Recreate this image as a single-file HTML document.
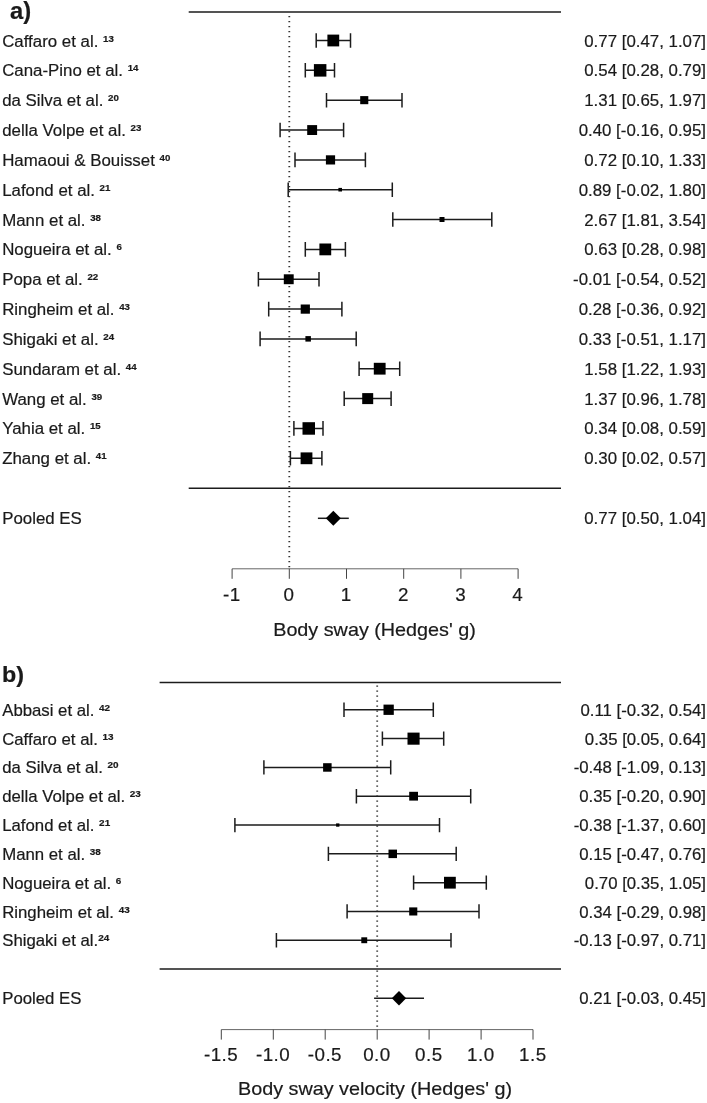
<!DOCTYPE html>
<html lang="en"><head><meta charset="utf-8"><title>Forest plot</title>
<style>
html,body{margin:0;padding:0;background:#fff;}
svg{display:block;font-family:"Liberation Sans", Arial, Helvetica, sans-serif;fill:#1a1a1a;}
text{stroke:#1a1a1a;stroke-width:0.2px;}
</style></head>
<body>
<svg width="707" height="1103" viewBox="0 0 707 1103">
<rect x="0" y="0" width="707" height="1103" fill="#fff"/>
<text transform="translate(9.9 18.7) scale(1.03 1)" font-size="23.1" font-weight="bold">a)</text>
<path d="M188.7 12H561.0M188.7 488.3H561.0" stroke="#1c1c1c" stroke-width="1.5" fill="none"/>
<line x1="289.3" y1="16.0" x2="289.3" y2="568.8" stroke="#333" stroke-width="1.8" stroke-dasharray="1.25 3.75"/>
<text transform="translate(2.2 46.5) scale(1 1)" font-size="16.85" xml:space="preserve">Caffaro et al. <tspan font-size="9.7" font-weight="bold" dx="0.0" dy="-5.0">13</tspan></text>
<path d="M316.2 40.5H350.5M316.2 33.2V47.8M350.5 33.2V47.8" stroke="#1c1c1c" stroke-width="1.5" fill="none"/>
<rect x="327.4" y="34.6" width="11.8" height="11.8" fill="#000"/>
<text transform="translate(706.0 46.5) scale(1 1)" font-size="16.85" text-anchor="end">0.77 [0.47, 1.07]</text>
<text transform="translate(2.2 76.3) scale(1 1)" font-size="16.85" xml:space="preserve">Cana-Pino et al. <tspan font-size="9.7" font-weight="bold" dx="0.0" dy="-5.0">14</tspan></text>
<path d="M305.3 70.3H334.5M305.3 63.0V77.6M334.5 63.0V77.6" stroke="#1c1c1c" stroke-width="1.5" fill="none"/>
<rect x="313.9" y="64.1" width="12.5" height="12.5" fill="#000"/>
<text transform="translate(706.0 76.3) scale(1 1)" font-size="16.85" text-anchor="end">0.54 [0.28, 0.79]</text>
<text transform="translate(2.2 106.2) scale(1 1)" font-size="16.85" xml:space="preserve">da Silva et al. <tspan font-size="9.7" font-weight="bold" dx="0.0" dy="-5.0">20</tspan></text>
<path d="M326.5 100.2H402.0M326.5 92.9V107.5M402.0 92.9V107.5" stroke="#1c1c1c" stroke-width="1.5" fill="none"/>
<rect x="360.2" y="96.1" width="8.1" height="8.1" fill="#000"/>
<text transform="translate(706.0 106.2) scale(1 1)" font-size="16.85" text-anchor="end">1.31 [0.65, 1.97]</text>
<text transform="translate(2.2 136.0) scale(1 1)" font-size="16.85" xml:space="preserve">della Volpe et al. <tspan font-size="9.7" font-weight="bold" dx="0.0" dy="-5.0">23</tspan></text>
<path d="M280.1 130.0H343.6M280.1 122.7V137.3M343.6 122.7V137.3" stroke="#1c1c1c" stroke-width="1.5" fill="none"/>
<rect x="307.2" y="125.1" width="9.9" height="9.9" fill="#000"/>
<text transform="translate(706.0 136.0) scale(1 1)" font-size="16.85" text-anchor="end">0.40 [-0.16, 0.95]</text>
<text transform="translate(2.2 165.9) scale(1 1)" font-size="16.85" xml:space="preserve">Hamaoui &amp; Bouisset <tspan font-size="9.7" font-weight="bold" dx="0.0" dy="-5.0">40</tspan></text>
<path d="M295.0 159.9H365.4M295.0 152.6V167.2M365.4 152.6V167.2" stroke="#1c1c1c" stroke-width="1.5" fill="none"/>
<rect x="325.9" y="155.3" width="9.2" height="9.2" fill="#000"/>
<text transform="translate(706.0 165.9) scale(1 1)" font-size="16.85" text-anchor="end">0.72 [0.10, 1.33]</text>
<text transform="translate(2.2 195.7) scale(1 1)" font-size="16.85" xml:space="preserve">Lafond et al. <tspan font-size="9.7" font-weight="bold" dx="0.0" dy="-5.0">21</tspan></text>
<path d="M288.2 189.7H392.3M288.2 182.4V197.0M392.3 182.4V197.0" stroke="#1c1c1c" stroke-width="1.5" fill="none"/>
<rect x="338.4" y="187.9" width="3.6" height="3.6" fill="#000"/>
<text transform="translate(706.0 195.7) scale(1 1)" font-size="16.85" text-anchor="end">0.89 [-0.02, 1.80]</text>
<text transform="translate(2.2 225.5) scale(1 1)" font-size="16.85" xml:space="preserve">Mann et al. <tspan font-size="9.7" font-weight="bold" dx="0.0" dy="-5.0">38</tspan></text>
<path d="M392.8 219.5H491.8M392.8 212.2V226.8M491.8 212.2V226.8" stroke="#1c1c1c" stroke-width="1.5" fill="none"/>
<rect x="439.5" y="217.0" width="5.0" height="5.0" fill="#000"/>
<text transform="translate(706.0 225.5) scale(1 1)" font-size="16.85" text-anchor="end">2.67 [1.81, 3.54]</text>
<text transform="translate(2.2 255.4) scale(1 1)" font-size="16.85" xml:space="preserve">Nogueira et al. <tspan font-size="9.7" font-weight="bold" dx="0.0" dy="-5.0">6</tspan></text>
<path d="M305.3 249.4H345.4M305.3 242.1V256.7M345.4 242.1V256.7" stroke="#1c1c1c" stroke-width="1.5" fill="none"/>
<rect x="319.4" y="243.5" width="11.8" height="11.8" fill="#000"/>
<text transform="translate(706.0 255.4) scale(1 1)" font-size="16.85" text-anchor="end">0.63 [0.28, 0.98]</text>
<text transform="translate(2.2 285.2) scale(1 1)" font-size="16.85" xml:space="preserve">Popa et al. <tspan font-size="9.7" font-weight="bold" dx="0.0" dy="-5.0">22</tspan></text>
<path d="M258.4 279.2H319.0M258.4 271.9V286.5M319.0 271.9V286.5" stroke="#1c1c1c" stroke-width="1.5" fill="none"/>
<rect x="283.8" y="274.3" width="9.9" height="9.9" fill="#000"/>
<text transform="translate(706.0 285.2) scale(1 1)" font-size="16.85" text-anchor="end">-0.01 [-0.54, 0.52]</text>
<text transform="translate(2.2 315.1) scale(1 1)" font-size="16.85" xml:space="preserve">Ringheim et al. <tspan font-size="9.7" font-weight="bold" dx="0.0" dy="-5.0">43</tspan></text>
<path d="M268.7 309.1H341.9M268.7 301.8V316.4M341.9 301.8V316.4" stroke="#1c1c1c" stroke-width="1.5" fill="none"/>
<rect x="300.7" y="304.5" width="9.2" height="9.2" fill="#000"/>
<text transform="translate(706.0 315.1) scale(1 1)" font-size="16.85" text-anchor="end">0.28 [-0.36, 0.92]</text>
<text transform="translate(2.2 344.9) scale(1 1)" font-size="16.85" xml:space="preserve">Shigaki et al. <tspan font-size="9.7" font-weight="bold" dx="0.0" dy="-5.0">24</tspan></text>
<path d="M260.1 338.9H356.2M260.1 331.6V346.2M356.2 331.6V346.2" stroke="#1c1c1c" stroke-width="1.5" fill="none"/>
<rect x="305.4" y="336.1" width="5.5" height="5.5" fill="#000"/>
<text transform="translate(706.0 344.9) scale(1 1)" font-size="16.85" text-anchor="end">0.33 [-0.51, 1.17]</text>
<text transform="translate(2.2 374.7) scale(1 1)" font-size="16.85" xml:space="preserve">Sundaram et al. <tspan font-size="9.7" font-weight="bold" dx="0.0" dy="-5.0">44</tspan></text>
<path d="M359.1 368.7H399.7M359.1 361.4V376.0M399.7 361.4V376.0" stroke="#1c1c1c" stroke-width="1.5" fill="none"/>
<rect x="373.8" y="362.8" width="11.8" height="11.8" fill="#000"/>
<text transform="translate(706.0 374.7) scale(1 1)" font-size="16.85" text-anchor="end">1.58 [1.22, 1.93]</text>
<text transform="translate(2.2 404.6) scale(1 1)" font-size="16.85" xml:space="preserve">Wang et al. <tspan font-size="9.7" font-weight="bold" dx="0.0" dy="-5.0">39</tspan></text>
<path d="M344.2 398.6H391.1M344.2 391.3V405.9M391.1 391.3V405.9" stroke="#1c1c1c" stroke-width="1.5" fill="none"/>
<rect x="362.2" y="393.1" width="11.0" height="11.0" fill="#000"/>
<text transform="translate(706.0 404.6) scale(1 1)" font-size="16.85" text-anchor="end">1.37 [0.96, 1.78]</text>
<text transform="translate(2.2 434.4) scale(1 1)" font-size="16.85" xml:space="preserve">Yahia et al. <tspan font-size="9.7" font-weight="bold" dx="0.0" dy="-5.0">15</tspan></text>
<path d="M293.9 428.4H323.0M293.9 421.1V435.7M323.0 421.1V435.7" stroke="#1c1c1c" stroke-width="1.5" fill="none"/>
<rect x="302.5" y="422.2" width="12.5" height="12.5" fill="#000"/>
<text transform="translate(706.0 434.4) scale(1 1)" font-size="16.85" text-anchor="end">0.34 [0.08, 0.59]</text>
<text transform="translate(2.2 464.3) scale(1 1)" font-size="16.85" xml:space="preserve">Zhang et al. <tspan font-size="9.7" font-weight="bold" dx="0.0" dy="-5.0">41</tspan></text>
<path d="M290.4 458.3H321.9M290.4 451.0V465.6M321.9 451.0V465.6" stroke="#1c1c1c" stroke-width="1.5" fill="none"/>
<rect x="300.6" y="452.4" width="11.8" height="11.8" fill="#000"/>
<text transform="translate(706.0 464.3) scale(1 1)" font-size="16.85" text-anchor="end">0.30 [0.02, 0.57]</text>
<text transform="translate(2.2 524.3) scale(1 1)" font-size="16.85">Pooled ES</text>
<line x1="317.9" y1="518.3" x2="348.8" y2="518.3" stroke="#1c1c1c" stroke-width="1.5"/>
<path d="M325.8 518.3L333.3 510.79999999999995L340.8 518.3L333.3 525.8Z" fill="#000"/>
<text transform="translate(706.0 524.3) scale(1 1)" font-size="16.85" text-anchor="end">0.77 [0.50, 1.04]</text>
<path d="M232.1 568.8H518.1" stroke="#555" stroke-width="0.9" fill="none"/>
<path d="M232.1 568.8V578.8M289.3 568.8V578.8M346.5 568.8V578.8M403.7 568.8V578.8M460.9 568.8V578.8M518.1 568.8V578.8" stroke="#444" stroke-width="1" fill="none"/>
<text transform="translate(231.8 601.0) scale(1 1)" font-size="18.8" text-anchor="middle" letter-spacing="0.45">-1</text>
<text transform="translate(289.0 601.0) scale(1 1)" font-size="18.8" text-anchor="middle" letter-spacing="0.45">0</text>
<text transform="translate(346.2 601.0) scale(1 1)" font-size="18.8" text-anchor="middle" letter-spacing="0.45">1</text>
<text transform="translate(403.4 601.0) scale(1 1)" font-size="18.8" text-anchor="middle" letter-spacing="0.45">2</text>
<text transform="translate(460.6 601.0) scale(1 1)" font-size="18.8" text-anchor="middle" letter-spacing="0.45">3</text>
<text transform="translate(517.8 601.0) scale(1 1)" font-size="18.8" text-anchor="middle" letter-spacing="0.45">4</text>
<text transform="translate(273.2 635.7) scale(1.052 1)" font-size="18.8">Body sway (Hedges' g)</text>
<text transform="translate(2.1 681.5) scale(1.07 1)" font-size="21.8" font-weight="bold">b)</text>
<path d="M159.6 682.4H561.0M159.6 969.1H561.0" stroke="#1c1c1c" stroke-width="1.5" fill="none"/>
<line x1="377.2" y1="685.4" x2="377.2" y2="1029.6" stroke="#333" stroke-width="1.8" stroke-dasharray="1.25 3.75"/>
<text transform="translate(2.2 715.8) scale(1.055 1)" font-size="15.9" xml:space="preserve">Abbasi et al. <tspan font-size="9.4" font-weight="bold" dx="0.0" dy="-5.0">42</tspan></text>
<path d="M344.0 709.8H433.3M344.0 702.6V716.9M433.3 702.6V716.9" stroke="#1c1c1c" stroke-width="1.5" fill="none"/>
<rect x="383.5" y="704.6" width="10.3" height="10.3" fill="#000"/>
<text transform="translate(706.0 715.8) scale(1.055 1)" font-size="15.9" text-anchor="end">0.11 [-0.32, 0.54]</text>
<text transform="translate(2.2 744.6) scale(1.055 1)" font-size="15.9" xml:space="preserve">Caffaro et al. <tspan font-size="9.4" font-weight="bold" dx="0.0" dy="-5.0">13</tspan></text>
<path d="M382.4 738.6H443.7M382.4 731.5V745.8M443.7 731.5V745.8" stroke="#1c1c1c" stroke-width="1.5" fill="none"/>
<rect x="407.5" y="732.6" width="12.1" height="12.1" fill="#000"/>
<text transform="translate(706.0 744.6) scale(1.055 1)" font-size="15.9" text-anchor="end">0.35 [0.05, 0.64]</text>
<text transform="translate(2.2 773.4) scale(1.055 1)" font-size="15.9" xml:space="preserve">da Silva et al. <tspan font-size="9.4" font-weight="bold" dx="0.0" dy="-5.0">20</tspan></text>
<path d="M263.9 767.4H390.7M263.9 760.3V774.6M390.7 760.3V774.6" stroke="#1c1c1c" stroke-width="1.5" fill="none"/>
<rect x="323.1" y="763.2" width="8.5" height="8.5" fill="#000"/>
<text transform="translate(706.0 773.4) scale(1.055 1)" font-size="15.9" text-anchor="end">-0.48 [-1.09, 0.13]</text>
<text transform="translate(2.2 802.2) scale(1.055 1)" font-size="15.9" xml:space="preserve">della Volpe et al. <tspan font-size="9.4" font-weight="bold" dx="0.0" dy="-5.0">23</tspan></text>
<path d="M356.4 796.2H470.7M356.4 789.1V803.4M470.7 789.1V803.4" stroke="#1c1c1c" stroke-width="1.5" fill="none"/>
<rect x="409.2" y="791.8" width="8.8" height="8.8" fill="#000"/>
<text transform="translate(706.0 802.2) scale(1.055 1)" font-size="15.9" text-anchor="end">0.35 [-0.20, 0.90]</text>
<text transform="translate(2.2 831.0) scale(1.055 1)" font-size="15.9" xml:space="preserve">Lafond et al. <tspan font-size="9.4" font-weight="bold" dx="0.0" dy="-5.0">21</tspan></text>
<path d="M234.9 825.0H439.5M234.9 817.9V832.2M439.5 817.9V832.2" stroke="#1c1c1c" stroke-width="1.5" fill="none"/>
<rect x="336.1" y="823.4" width="3.3" height="3.3" fill="#000"/>
<text transform="translate(706.0 831.0) scale(1.055 1)" font-size="15.9" text-anchor="end">-0.38 [-1.37, 0.60]</text>
<text transform="translate(2.2 859.8) scale(1.055 1)" font-size="15.9" xml:space="preserve">Mann et al. <tspan font-size="9.4" font-weight="bold" dx="0.0" dy="-5.0">38</tspan></text>
<path d="M328.4 853.8H456.2M328.4 846.7V861.0M456.2 846.7V861.0" stroke="#1c1c1c" stroke-width="1.5" fill="none"/>
<rect x="388.5" y="849.6" width="8.5" height="8.5" fill="#000"/>
<text transform="translate(706.0 859.8) scale(1.055 1)" font-size="15.9" text-anchor="end">0.15 [-0.47, 0.76]</text>
<text transform="translate(2.2 888.7) scale(1.055 1)" font-size="15.9" xml:space="preserve">Nogueira et al. <tspan font-size="9.4" font-weight="bold" dx="0.0" dy="-5.0">6</tspan></text>
<path d="M413.6 882.7H486.3M413.6 875.5V889.8M486.3 875.5V889.8" stroke="#1c1c1c" stroke-width="1.5" fill="none"/>
<rect x="444.0" y="876.8" width="11.8" height="11.8" fill="#000"/>
<text transform="translate(706.0 888.7) scale(1.055 1)" font-size="15.9" text-anchor="end">0.70 [0.35, 1.05]</text>
<text transform="translate(2.2 917.5) scale(1.055 1)" font-size="15.9" xml:space="preserve">Ringheim et al. <tspan font-size="9.4" font-weight="bold" dx="0.0" dy="-5.0">43</tspan></text>
<path d="M347.1 911.5H479.0M347.1 904.3V918.6M479.0 904.3V918.6" stroke="#1c1c1c" stroke-width="1.5" fill="none"/>
<rect x="409.2" y="907.4" width="8.1" height="8.1" fill="#000"/>
<text transform="translate(706.0 917.5) scale(1.055 1)" font-size="15.9" text-anchor="end">0.34 [-0.29, 0.98]</text>
<text transform="translate(2.2 946.3) scale(1.055 1)" font-size="15.9" xml:space="preserve">Shigaki et al.<tspan font-size="9.4" font-weight="bold" dx="0.0" dy="-5.0">24</tspan></text>
<path d="M276.4 940.3H451.0M276.4 933.1V947.4M451.0 933.1V947.4" stroke="#1c1c1c" stroke-width="1.5" fill="none"/>
<rect x="361.3" y="937.3" width="5.9" height="5.9" fill="#000"/>
<text transform="translate(706.0 946.3) scale(1.055 1)" font-size="15.9" text-anchor="end">-0.13 [-0.97, 0.71]</text>
<text transform="translate(2.2 1004.2) scale(1.055 1)" font-size="15.9">Pooled ES</text>
<line x1="374.1" y1="998.2" x2="424.0" y2="998.2" stroke="#1c1c1c" stroke-width="1.5"/>
<path d="M391.8 998.2L399.0 991.0L406.2 998.2L399.0 1005.4000000000001Z" fill="#000"/>
<text transform="translate(706.0 1004.2) scale(1.055 1)" font-size="15.9" text-anchor="end">0.21 [-0.03, 0.45]</text>
<path d="M221.3 1029.6H533.0" stroke="#555" stroke-width="0.9" fill="none"/>
<path d="M221.3 1029.6V1039.6M273.3 1029.6V1039.6M325.2 1029.6V1039.6M377.2 1029.6V1039.6M429.1 1029.6V1039.6M481.1 1029.6V1039.6M533.0 1029.6V1039.6" stroke="#444" stroke-width="1" fill="none"/>
<text transform="translate(221.0 1061.3) scale(1 1)" font-size="18.8" text-anchor="middle" letter-spacing="0.45">-1.5</text>
<text transform="translate(273.0 1061.3) scale(1 1)" font-size="18.8" text-anchor="middle" letter-spacing="0.45">-1.0</text>
<text transform="translate(324.9 1061.3) scale(1 1)" font-size="18.8" text-anchor="middle" letter-spacing="0.45">-0.5</text>
<text transform="translate(376.9 1061.3) scale(1 1)" font-size="18.8" text-anchor="middle" letter-spacing="0.45">0.0</text>
<text transform="translate(428.8 1061.3) scale(1 1)" font-size="18.8" text-anchor="middle" letter-spacing="0.45">0.5</text>
<text transform="translate(480.8 1061.3) scale(1 1)" font-size="18.8" text-anchor="middle" letter-spacing="0.45">1.0</text>
<text transform="translate(532.8 1061.3) scale(1 1)" font-size="18.8" text-anchor="middle" letter-spacing="0.45">1.5</text>
<text transform="translate(238.0 1095.4) scale(1.052 1)" font-size="18.8">Body sway velocity (Hedges' g)</text>
</svg>
</body></html>
